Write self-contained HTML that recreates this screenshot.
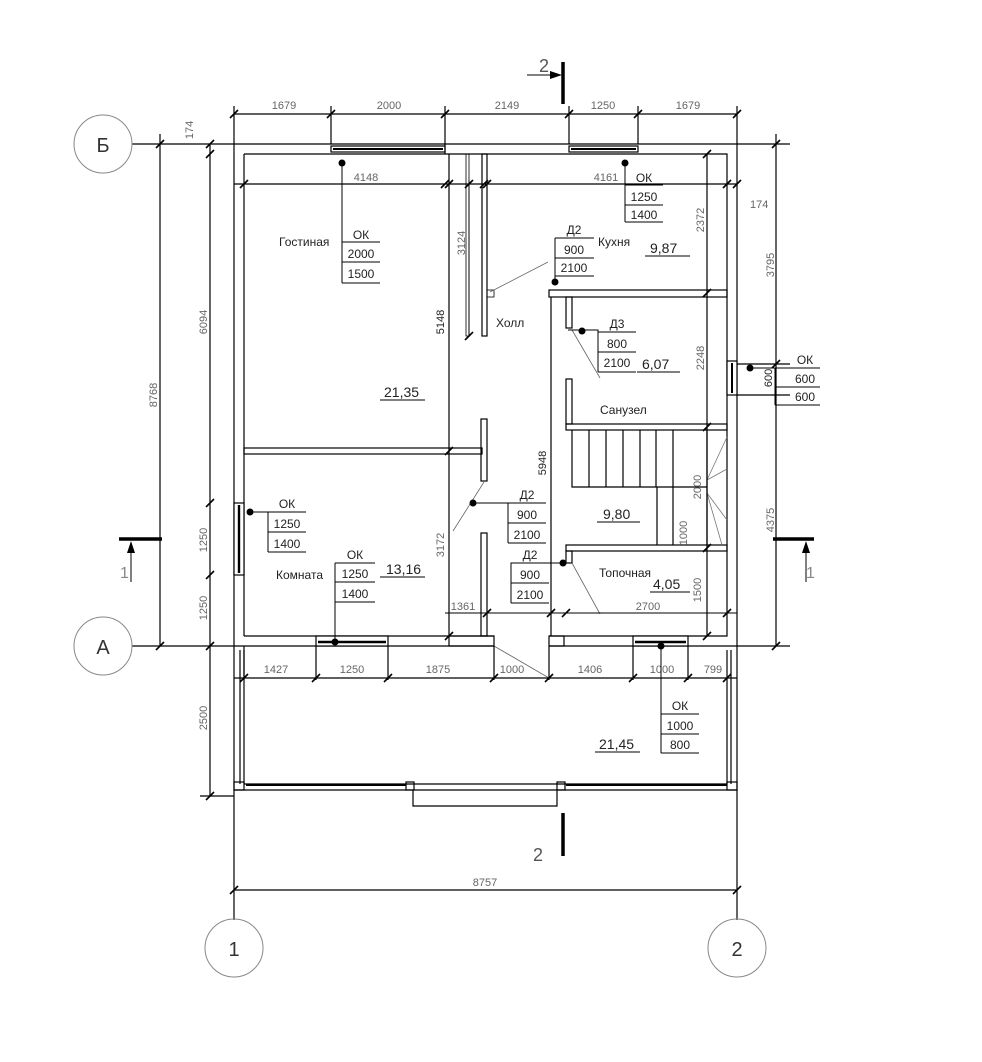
<!DOCTYPE html>
<html><head><meta charset="utf-8"><style>
html,body{margin:0;padding:0;background:#fff}
svg{display:block}
text{font-family:"Liberation Sans",sans-serif;font-size:12px;fill:#222}
.g{fill:#666;font-size:11px}
</style></head><body>
<svg width="982" height="1062" viewBox="0 0 982 1062" xmlns="http://www.w3.org/2000/svg">
<defs><path id="t" d="M-4,4 L4,-4" stroke="#000" stroke-width="1.6"/></defs>
<g fill="none" stroke="#000" stroke-width="1.2">
<!-- outer walls -->
<path d="M234,144 H737 V646 H549 M494,646 H234 Z"/>
<path d="M234,646 V144"/>
<path d="M244,154 H727 V636 H549 M494,636 H244 Z"/>
<path d="M244,154 V636"/>
<!-- windows top -->
<rect x="331" y="146" width="114" height="6" fill="#fff"/>
<line x1="333" y1="149" x2="443" y2="149" stroke-width="2"/>
<rect x="569" y="146" width="69" height="6" fill="#fff"/>
<line x1="571" y1="149" x2="636" y2="149" stroke-width="2"/>
<!-- interior walls -->
<line x1="449" y1="154" x2="449" y2="636"/>
<line x1="445" y1="144" x2="445" y2="154"/>
<rect x="482" y="154" width="5" height="182"/>
<rect x="466" y="154" width="3" height="182" stroke-width="0.8"/>
<rect x="487" y="290" width="7" height="7" stroke-width="0.8"/>
<rect x="244" y="448" width="238" height="6"/>
<rect x="481" y="419" width="6" height="62"/>
<rect x="481" y="533" width="6" height="103"/>
<rect x="449" y="636" width="45" height="10"/>
<rect x="549" y="290" width="178" height="7"/>
<line x1="551" y1="297" x2="551" y2="636"/>
<rect x="566" y="297" width="6" height="31"/>
<rect x="566" y="379" width="6" height="45"/>
<rect x="566" y="424" width="161" height="6"/>
<rect x="566" y="545" width="161" height="6"/>
<rect x="566" y="551" width="6" height="12"/>
<rect x="549" y="636" width="15" height="10"/>
<!-- stairs -->
<path d="M572,430 V487 H673 M589,430V487 M606,430V487 M623,430V487 M640,430V487 M656,430V487 M673,430V487 M673,487 H707 M657,487 V545 M673,487 V545 M707,430 V545"/>
<path d="M707,480 L727,469 M707,493 L727,520 M707,480 L727,437 M707,493 L722,545" stroke="#777" stroke-width="0.8"/>
<!-- right window -->
<rect x="727" y="361" width="10" height="34" fill="#fff"/>
<line x1="732" y1="363" x2="732" y2="393" stroke-width="2"/>
<!-- left window komnata -->
<rect x="234" y="503" width="10" height="72" fill="#fff"/>
<line x1="239" y1="505" x2="239" y2="573" stroke-width="2.4"/>
<!-- bottom windows -->
<rect x="316" y="636" width="72" height="10" fill="#fff"/>
<line x1="318" y1="642" x2="386" y2="642" stroke-width="2.4"/>
<rect x="633" y="636" width="55" height="10" fill="#fff"/>
<line x1="635" y1="642" x2="686" y2="642" stroke-width="2.4"/>
<!-- door swings -->
<g stroke="#666" stroke-width="0.8">
<line x1="490" y1="292" x2="548" y2="262"/>
<line x1="572" y1="330" x2="600" y2="378"/>
<line x1="484" y1="482" x2="453" y2="531"/>
<line x1="572" y1="563" x2="600" y2="614"/>
<line x1="494" y1="646" x2="549" y2="678"/>
</g>
<!-- terrace -->
<path d="M234,646 V790 H737 V646"/>
<path d="M240,650 V784 M244,650 V784 M727,650 V784 M731,650 V784"/>
<path d="M244,784 H727" />
<line x1="246" y1="785" x2="406" y2="785" stroke-width="2"/>
<line x1="566" y1="785" x2="727" y2="785" stroke-width="2"/>
<rect x="234" y="782" width="10" height="8"/><rect x="727" y="782" width="10" height="8"/>
<rect x="406" y="782" width="8" height="8"/><rect x="557" y="782" width="8" height="8"/>
<path d="M413,790 V806 H557 V790"/>
<!-- dimension lines -->
<path d="M234,114 H737 M234,106 V144 M331,106V144 M445,106V144 M569,106V144 M638,106V144 M737,106V144"/>
<path d="M234,184 H737"/>
<path d="M234,678 H737 M244,646V680 M316,646V680 M388,646V680 M494,646V680 M549,646V680 M633,646V680 M688,646V680"/>
<path d="M234,890 H737 M234,790 V920 M737,790 V920"/>
<path d="M160,134 V646 M210,144 V796 M776,134 V646"/>
<path d="M132,144 H234 M132,646 H234 M200,796 H234 M737,144 H790 M737,646 H790 M737,364 H790 M737,395 H790"/>
<path d="M469,180 V336 M707,154 V636 M445,613 H737" stroke-width="1"/>
<path d="M707,154 V636"/>
</g>
<!-- ticks -->
<g>
<use href="#t" x="234" y="114"/><use href="#t" x="331" y="114"/><use href="#t" x="445" y="114"/><use href="#t" x="569" y="114"/><use href="#t" x="638" y="114"/><use href="#t" x="737" y="114"/>
<use href="#t" x="244" y="184"/><use href="#t" x="445" y="184"/><use href="#t" x="484" y="184"/><use href="#t" x="487" y="184"/><use href="#t" x="727" y="184"/><use href="#t" x="737" y="184"/>
<use href="#t" x="244" y="678"/><use href="#t" x="316" y="678"/><use href="#t" x="388" y="678"/><use href="#t" x="494" y="678"/><use href="#t" x="549" y="678"/><use href="#t" x="633" y="678"/><use href="#t" x="688" y="678"/><use href="#t" x="727" y="678"/>
<use href="#t" x="234" y="890"/><use href="#t" x="737" y="890"/>
<use href="#t" x="160" y="144"/><use href="#t" x="160" y="646"/>
<use href="#t" x="210" y="144"/><use href="#t" x="210" y="154"/><use href="#t" x="210" y="503"/><use href="#t" x="210" y="575"/><use href="#t" x="210" y="646"/><use href="#t" x="210" y="796"/>
<use href="#t" x="776" y="144"/><use href="#t" x="776" y="364"/><use href="#t" x="776" y="646"/>
<use href="#t" x="469" y="184"/><use href="#t" x="469" y="336"/>
<use href="#t" x="449" y="184"/><use href="#t" x="449" y="451"/><use href="#t" x="449" y="636"/>
<use href="#t" x="707" y="154"/><use href="#t" x="707" y="293"/><use href="#t" x="707" y="427"/><use href="#t" x="707" y="548"/><use href="#t" x="707" y="636"/>
<use href="#t" x="487" y="613"/><use href="#t" x="551" y="613"/><use href="#t" x="566" y="613"/><use href="#t" x="727" y="613"/>
</g>
<!-- axis circles -->
<g fill="none" stroke="#888" stroke-width="1">
<circle cx="103" cy="144" r="29"/><circle cx="103" cy="646" r="29"/>
<circle cx="234" cy="948" r="29"/><circle cx="737" cy="948" r="29"/>
</g>
<g font-size="20">
<text x="103" y="152" text-anchor="middle" style="font-size:20px;fill:#333">Б</text>
<text x="103" y="654" text-anchor="middle" style="font-size:20px;fill:#333">А</text>
<text x="234" y="956" text-anchor="middle" style="font-size:20px;fill:#333">1</text>
<text x="737" y="956" text-anchor="middle" style="font-size:20px;fill:#333">2</text>
</g>
<!-- section marks -->
<g stroke="#000">
<line x1="563" y1="62" x2="563" y2="104" stroke-width="3.5"/>
<line x1="527" y1="75" x2="556" y2="75" stroke-width="1"/>
<line x1="563" y1="813" x2="563" y2="856" stroke-width="3.5"/>
<line x1="119" y1="539" x2="162" y2="539" stroke-width="3.5"/>
<line x1="131" y1="582" x2="131" y2="548" stroke-width="1"/>
<line x1="773" y1="539" x2="814" y2="539" stroke-width="3.5"/>
<line x1="806" y1="582" x2="806" y2="548" stroke-width="1"/>
</g>
<polygon points="562,75 550,71 550,79" fill="#000"/>
<polygon points="131,541 127,553 135,553" fill="#000"/>
<polygon points="806,541 802,553 810,553" fill="#000"/>
<text x="539" y="72" style="font-size:18px;fill:#555">2</text>
<text x="533" y="861" style="font-size:18px;fill:#555">2</text>
<text x="120" y="578" style="font-size:16px;fill:#888">1</text>
<text x="806" y="578" style="font-size:16px;fill:#888">1</text>
<!-- dimension text -->
<g class="dim">
<text class="g" x="284" y="109" text-anchor="middle">1679</text>
<text class="g" x="389" y="109" text-anchor="middle">2000</text>
<text class="g" x="507" y="109" text-anchor="middle">2149</text>
<text class="g" x="603" y="109" text-anchor="middle">1250</text>
<text class="g" x="688" y="109" text-anchor="middle">1679</text>
<text class="g" x="366" y="181" text-anchor="middle">4148</text>
<text class="g" x="606" y="181" text-anchor="middle">4161</text>
<text class="g" x="750" y="208">174</text>
<text class="g" x="276" y="673" text-anchor="middle">1427</text>
<text class="g" x="352" y="673" text-anchor="middle">1250</text>
<text class="g" x="438" y="673" text-anchor="middle">1875</text>
<text class="g" x="512" y="673" text-anchor="middle">1000</text>
<text class="g" x="590" y="673" text-anchor="middle">1406</text>
<text class="g" x="662" y="673" text-anchor="middle">1000</text>
<text class="g" x="713" y="673" text-anchor="middle">799</text>
<text class="g" x="485" y="886" text-anchor="middle">8757</text>
<text class="g" x="463" y="610" text-anchor="middle">1361</text>
<text class="g" x="648" y="610" text-anchor="middle">2700</text>
<g transform="rotate(-90)">
<text class="g" x="-322" y="207" text-anchor="middle">6094</text>
<text class="g" x="-540" y="207" text-anchor="middle">1250</text>
<text class="g" x="-608" y="207" text-anchor="middle">1250</text>
<text class="g" x="-718" y="207" text-anchor="middle">2500</text>
<text class="g" x="-395" y="157" text-anchor="middle">8768</text>
<text class="g" x="-130" y="193" text-anchor="middle">174</text>
<text class="g" x="-265" y="774" text-anchor="middle">3795</text>
<text class="g" x="-520" y="774" text-anchor="middle">4375</text>
<text class="g" x="-378" y="772" text-anchor="middle" style="fill:#222">600</text>
<text class="g" x="-243" y="465" text-anchor="middle">3124</text>
<text class="g" x="-322" y="444" text-anchor="middle" style="fill:#222">5148</text>
<text class="g" x="-220" y="704" text-anchor="middle">2372</text>
<text class="g" x="-358" y="704" text-anchor="middle">2248</text>
<text class="g" x="-463" y="546" text-anchor="middle" style="fill:#222">5948</text>
<text class="g" x="-545" y="444" text-anchor="middle">3172</text>
<text class="g" x="-487" y="701" text-anchor="middle">2000</text>
<text class="g" x="-533" y="687" text-anchor="middle">1000</text>
<text class="g" x="-590" y="701" text-anchor="middle">1500</text>
</g>
</g>
<!-- marker tables -->
<g fill="none" stroke="#000" stroke-width="1">
<path d="M342,163 V283 M342,242 H380 M342,262 H380 M342,283 H380"/>
<path d="M625,163 V222 M625,185 H663 M625,205 H663 M625,222 H663"/>
<path d="M555,282 V238 M555,238 H594 M555,258 H594 M555,276 H594"/>
<path d="M568,330 H598 V372 M598,332 H636 M598,352 H636 M598,372 H636"/>
<path d="M750,368 H820 M775,368 V405 M775,387 H820 M775,405 H820"/>
<path d="M250,512 H306 M268,512 V552 M268,532 H306 M268,552 H306"/>
<path d="M335,642 V563 M335,563 H375 M335,582 H375 M335,602 H375"/>
<path d="M473,503 H546 M508,503 V543 M508,523 H546 M508,543 H546"/>
<path d="M563,563 H511 V603 M511,583 H549 M511,603 H549"/>
<path d="M661,646 V753 M661,714 H699 M661,734 H699 M661,753 H699"/>
<path d="M380,400 H425 M645,256 H690 M637,372 H680 M597,522 H640 M380,577 H425 M650,592 H690 M595,752 H640"/>
</g>
<g fill="#000">
<circle cx="342" cy="163" r="3.5"/><circle cx="625" cy="163" r="3.5"/><circle cx="555" cy="282" r="3.5"/>
<circle cx="582" cy="331" r="3.5"/><circle cx="750" cy="368" r="3.5"/><circle cx="250" cy="512" r="3.5"/>
<circle cx="335" cy="642" r="3.5"/><circle cx="473" cy="503" r="3.5"/><circle cx="563" cy="563" r="3.5"/>
<circle cx="661" cy="646" r="3.5"/>
</g>
<g text-anchor="middle">
<text x="361" y="239">ОК</text><text x="361" y="258">2000</text><text x="361" y="278">1500</text>
<text x="644" y="182">ОК</text><text x="644" y="201">1250</text><text x="644" y="219">1400</text>
<text x="574" y="234">Д2</text><text x="574" y="254">900</text><text x="574" y="272">2100</text>
<text x="617" y="328">Д3</text><text x="617" y="348">800</text><text x="617" y="367">2100</text>
<text x="805" y="364">ОК</text><text x="805" y="383">600</text><text x="805" y="401">600</text>
<text x="287" y="508">ОК</text><text x="287" y="528">1250</text><text x="287" y="548">1400</text>
<text x="355" y="559">ОК</text><text x="355" y="578">1250</text><text x="355" y="598">1400</text>
<text x="527" y="499">Д2</text><text x="527" y="519">900</text><text x="527" y="539">2100</text>
<text x="530" y="559">Д2</text><text x="530" y="579">900</text><text x="530" y="599">2100</text>
<text x="680" y="710">ОК</text><text x="680" y="730">1000</text><text x="680" y="749">800</text>
</g>
<g>
<text x="279" y="246">Гостиная</text>
<text x="598" y="246">Кухня</text>
<text x="496" y="327">Холл</text>
<text x="600" y="414">Санузел</text>
<text x="276" y="579">Комната</text>
<text x="599" y="577">Топочная</text>
<text x="384" y="397" style="font-size:14px">21,35</text>
<text x="650" y="253" style="font-size:14px">9,87</text>
<text x="642" y="369" style="font-size:14px">6,07</text>
<text x="603" y="519" style="font-size:14px">9,80</text>
<text x="386" y="574" style="font-size:14px">13,16</text>
<text x="653" y="589" style="font-size:14px">4,05</text>
<text x="599" y="749" style="font-size:14px">21,45</text>
</g>
</svg>
</body></html>
